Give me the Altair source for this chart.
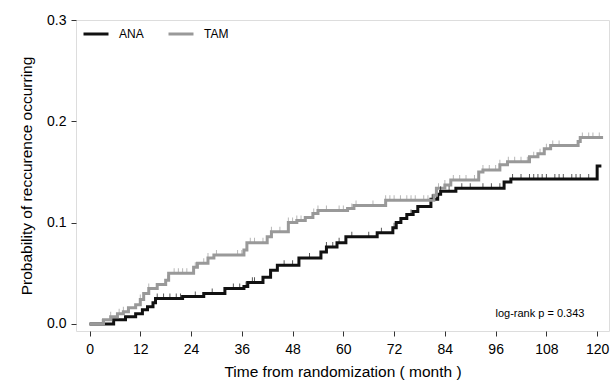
import altair as alt
import pandas as pd

# ---- data ----
ana_t = [0, 5.7, 8.5, 10.9, 12.5, 13.7, 15, 15.6, 22, 27, 32, 36.5, 37.4, 41, 42.8, 44.4,
         49.5, 54.7, 56, 58.5, 60.6, 68, 71.7, 72.5, 73.6, 75, 76.5, 77.6, 80.7, 82.3, 83,
         86.6, 98, 99.6, 120, 121]
ana_p = [0, 0.004, 0.007, 0.010, 0.014, 0.017, 0.021, 0.025, 0.027, 0.030, 0.035, 0.037,
         0.041, 0.046, 0.053, 0.058, 0.065, 0.071, 0.076, 0.080, 0.086, 0.090, 0.095, 0.100,
         0.104, 0.108, 0.111, 0.116, 0.123, 0.128, 0.131, 0.134, 0.140, 0.143, 0.156, 0.156]

tam_t = [0, 3.3, 5, 6.6, 8, 9.2, 10.9, 12, 12.8, 14, 16, 18, 18.7, 24.6, 25.5, 28, 29.4,
         36.5, 37.2, 42, 43, 47, 49, 51, 52.8, 54, 61, 62.5, 70, 81.4, 82, 84, 85.4, 92, 93,
         97, 98.8, 104, 106, 107.5, 109, 115.5, 116, 121.4]
tam_p = [0, 0.004, 0.007, 0.010, 0.012, 0.016, 0.019, 0.024, 0.030, 0.035, 0.039, 0.043,
         0.050, 0.056, 0.060, 0.065, 0.068, 0.073, 0.080, 0.086, 0.091, 0.100, 0.102, 0.105,
         0.109, 0.112, 0.114, 0.117, 0.122, 0.127, 0.134, 0.137, 0.142, 0.150, 0.152, 0.157,
         0.160, 0.165, 0.168, 0.173, 0.176, 0.180, 0.184, 0.184]

ana_censor = [16, 17.5, 19, 20.5, 21.5, 25, 29, 34, 35.5, 37, 38.5, 39, 46, 48, 52, 56,
              57.5, 59, 62, 66, 69, 72, 76, 81, 83, 85, 88, 90, 93, 95, 97, 100, 102, 104,
              105, 106, 107, 108, 110, 111, 112, 114, 115, 116, 118]
tam_censor = [3, 5, 7, 8, 12, 14, 18.5, 20, 21, 22, 23, 25, 27, 28, 30, 35, 36, 38, 39, 41,
              43, 45, 47, 48, 49, 50, 53, 54, 56, 59, 60, 62, 63, 67, 70, 71, 72, 73.5, 75,
              76, 77, 79, 80, 82.5, 84, 86, 87.5, 89, 91, 93, 94.5, 96, 97, 99, 100.5, 102,
              103.5, 105, 106.5, 108, 109.5, 111, 116.5, 118, 119, 120.5]

groups = ["ANA", "TAM"]
x_ticks = [0, 12, 24, 36, 48, 60, 72, 84, 96, 108, 120]
y_ticks = [0.0, 0.1, 0.2, 0.3]
annotation = "log-rank p = 0.343"


def step_value(ts, ps, t):
    v = ps[0]
    for ti, pi in zip(ts, ps):
        if ti <= t:
            v = pi
    return v


curves = pd.DataFrame(
    [{"t": t, "p": p, "group": "ANA"} for t, p in zip(ana_t, ana_p)]
    + [{"t": t, "p": p, "group": "TAM"} for t, p in zip(tam_t, tam_p)]
)
censors = pd.DataFrame(
    [{"t": t, "p": step_value(ana_t, ana_p, t), "group": "ANA"} for t in ana_censor]
    + [{"t": t, "p": step_value(tam_t, tam_p, t), "group": "TAM"} for t in tam_censor]
)
note = pd.DataFrame({"t": [117.0], "p": [0.010], "label": [annotation]})

FONT = "Liberation Sans"
xscale = alt.Scale(domain=[-3.2, 122.8], nice=False, zero=False)
yscale = alt.Scale(domain=[-0.007, 0.3], nice=False, zero=False)
color = alt.Scale(domain=groups, range=["#111111", "#999999"])

lines = alt.Chart(curves).mark_line(interpolate="step-after", strokeWidth=3).encode(
    x=alt.X("t:Q", scale=xscale,
            axis=alt.Axis(values=x_ticks, title="Time from randomization ( month )",
                          tickSize=5, labelPadding=6, titlePadding=8, grid=False,
                          domain=False, labelFontSize=14, titleFontSize=15.5,
                          titleFontWeight="normal", labelColor="#000", titleColor="#000",
                          tickColor="#333", labelFont=FONT, titleFont=FONT)),
    y=alt.Y("p:Q", scale=yscale,
            axis=alt.Axis(values=y_ticks, format=".1f",
                          title="Probability of reccurence occurring",
                          tickSize=5, labelPadding=5, titlePadding=12, grid=False,
                          domain=False, labelFontSize=14, titleFontSize=15.5,
                          titleFontWeight="normal", labelColor="#000", titleColor="#000",
                          tickColor="#333", labelFont=FONT, titleFont=FONT)),
    color=alt.Color("group:N", scale=color, sort=groups,
                    legend=alt.Legend(title=None, orient="none", legendX=6, legendY=0,
                                      direction="horizontal", symbolType="stroke",
                                      symbolSize=625, symbolStrokeWidth=3,
                                      labelFontSize=12, labelFont=FONT, labelColor="#000",
                                      labelOffset=9, columnPadding=18)),
)

ticks = alt.Chart(censors).mark_tick(orient="vertical", size=5, thickness=1, yOffset=-2.5).encode(
    x=alt.X("t:Q", scale=xscale),
    y=alt.Y("p:Q", scale=yscale),
    color=alt.Color("group:N", scale=color, sort=groups, legend=None),
)

text = alt.Chart(note).mark_text(align="right", baseline="middle", fontSize=11,
                                 font=FONT, color="#000").encode(
    x=alt.X("t:Q", scale=xscale),
    y=alt.Y("p:Q", scale=yscale),
    text="label:N",
)

chart = (
    alt.layer(lines, ticks, text)
    .properties(width=533, height=311,
                autosize=alt.AutoSizeParams(type="none"),
                padding={"left": 76, "top": 20, "right": 4, "bottom": 60})
    .configure_view(stroke="#444444", strokeWidth=1)
    .configure(background="white")
)

chart.save("out.html", embed_options={"renderer": "svg", "actions": False})
